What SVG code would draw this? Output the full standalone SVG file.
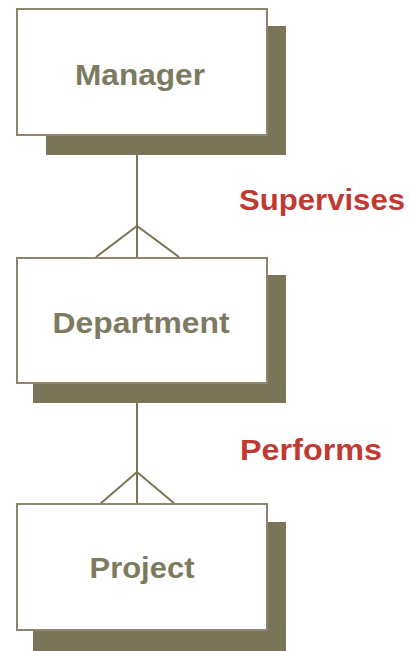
<svg xmlns="http://www.w3.org/2000/svg" width="410" height="651" viewBox="0 0 410 651">
<style>
.shadow{fill:#7a7558}
.box{fill:#ffffff;stroke:#8a8670;stroke-width:2}
.lbl{font-family:"Liberation Sans",Arial,sans-serif;font-weight:bold;font-size:30px;fill:#7d7a60;text-anchor:middle}
.rel{font-family:"Liberation Sans",Arial,sans-serif;font-weight:bold;font-size:29px;fill:#bf3a33}
.conn{stroke:#7a7558;stroke-width:2;fill:none}
</style>
<rect width="410" height="651" fill="#ffffff"/>
<g id="connectors">
<line class="conn" x1="137" y1="155" x2="137" y2="257"/>
<polyline class="conn" points="96,257 137,226 179,257"/>
<line class="conn" x1="137" y1="403" x2="137" y2="504"/>
<polyline class="conn" points="100,504 137,472 175,504"/>
<text class="rel" x="239" y="210" textLength="166" lengthAdjust="spacingAndGlyphs">Supervises</text>
<text class="rel" x="240" y="460" textLength="142" lengthAdjust="spacingAndGlyphs">Performs</text>
</g>
<g id="manager">
<rect class="shadow" x="46" y="26" width="240" height="129"/>
<rect class="box" x="17" y="9" width="250" height="126"/>
<text class="lbl" x="140" y="85" textLength="130" lengthAdjust="spacingAndGlyphs">Manager</text>
</g>
<g id="department">
<rect class="shadow" x="33" y="275" width="253" height="128"/>
<rect class="box" x="17" y="258" width="250" height="125"/>
<text class="lbl" x="141" y="333" textLength="177" lengthAdjust="spacingAndGlyphs">Department</text>
</g>
<g id="project">
<rect class="shadow" x="33" y="522" width="253" height="129"/>
<rect class="box" x="17" y="504" width="250" height="126"/>
<text class="lbl" x="142" y="578" textLength="105" lengthAdjust="spacingAndGlyphs">Project</text>
</g>
</svg>
